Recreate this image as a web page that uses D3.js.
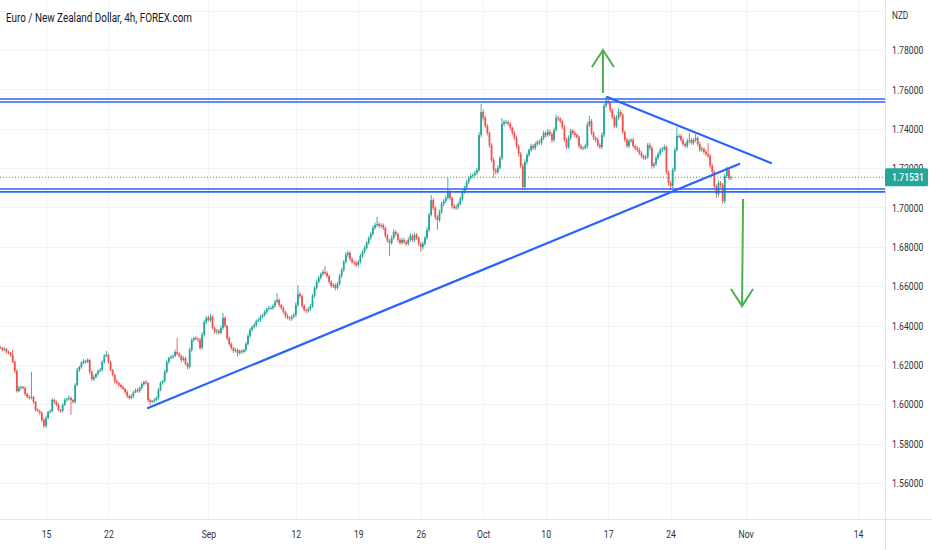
<!DOCTYPE html>
<html><head><meta charset="utf-8">
<script src="https://cdn.jsdelivr.net/npm/d3@7/dist/d3.min.js"></script>
<style>body{margin:0;background:#fff}svg{display:block}text{font-family:Roboto,"Noto Sans",sans-serif}</style>
</head><body>
<svg id="c" width="932" height="550"></svg>
<script>
const title = "Euro / New Zealand Dollar, 4h, FOREX.com";
const currency = "NZD";
const firstOpen = 1.6290;
const closes = [
1.6286,1.6276,1.6281,1.6266,1.6261,1.6251,1.6215,1.6169,1.6067,1.6083,
1.6088,1.6083,1.6052,1.6037,1.6032,1.6037,1.6012,1.5971,1.5966,1.5956,
1.5920,1.5890,1.5930,1.5961,1.5966,1.6022,1.6012,1.5997,1.5971,1.5966,
1.5997,1.6022,1.6027,1.6032,1.6022,1.6012,1.6098,1.6174,1.6189,1.6210,
1.6220,1.6215,1.6225,1.6164,1.6128,1.6138,1.6154,1.6169,1.6174,1.6215,
1.6246,1.6251,1.6215,1.6174,1.6149,1.6118,1.6108,1.6098,1.6088,1.6078,
1.6062,1.6042,1.6032,1.6042,1.6062,1.6072,1.6067,1.6083,1.6103,1.6113,
1.6108,1.6022,1.6012,1.6017,1.6022,1.6032,1.6072,1.6108,1.6118,1.6164,
1.6215,1.6235,1.6240,1.6246,1.6266,1.6256,1.6246,1.6225,1.6235,1.6205,
1.6189,1.6276,1.6327,1.6337,1.6332,1.6327,1.6286,1.6353,1.6418,1.6439,
1.6428,1.6444,1.6388,1.6368,1.6373,1.6363,1.6388,1.6439,1.6398,1.6337,
1.6306,1.6286,1.6271,1.6276,1.6261,1.6271,1.6266,1.6276,1.6306,1.6347,
1.6378,1.6393,1.6403,1.6423,1.6428,1.6444,1.6454,1.6469,1.6484,1.6489,
1.6489,1.6499,1.6520,1.6530,1.6505,1.6489,1.6469,1.6449,1.6439,1.6434,
1.6444,1.6454,1.6505,1.6560,1.6550,1.6499,1.6479,1.6474,1.6484,1.6499,
1.6550,1.6591,1.6622,1.6642,1.6662,1.6672,1.6667,1.6652,1.6622,1.6601,
1.6606,1.6591,1.6611,1.6652,1.6682,1.6723,1.6759,1.6769,1.6738,1.6723,
1.6718,1.6708,1.6723,1.6754,1.6774,1.6794,1.6820,1.6845,1.6865,1.6896,
1.6911,1.6916,1.6906,1.6911,1.6896,1.6855,1.6830,1.6820,1.6845,1.6875,
1.6865,1.6835,1.6820,1.6835,1.6825,1.6815,1.6835,1.6855,1.6835,1.6860,
1.6845,1.6815,1.6799,1.6815,1.6845,1.6886,1.6962,1.7038,1.6998,1.6952,
1.6936,1.6977,1.7018,1.7033,1.7048,1.7078,1.7048,1.7008,1.6998,1.7003,
1.7018,1.7043,1.7078,1.7099,1.7129,1.7150,1.7160,1.7165,1.7175,1.7190,
1.7368,1.7485,1.7455,1.7414,1.7378,1.7317,1.7241,1.7190,1.7180,1.7201,
1.7251,1.7424,1.7434,1.7434,1.7424,1.7404,1.7378,1.7353,1.7312,1.7272,
1.7211,1.7104,1.7231,1.7267,1.7292,1.7312,1.7302,1.7322,1.7333,1.7328,
1.7353,1.7378,1.7368,1.7384,1.7373,1.7343,1.7394,1.7455,1.7450,1.7439,
1.7409,1.7343,1.7307,1.7353,1.7389,1.7378,1.7368,1.7358,1.7312,1.7302,
1.7302,1.7312,1.7419,1.7439,1.7378,1.7353,1.7343,1.7317,1.7307,1.7368,
1.7516,1.7541,1.7531,1.7495,1.7460,1.7414,1.7455,1.7485,1.7470,1.7383,
1.7343,1.7312,1.7338,1.7343,1.7312,1.7302,1.7292,1.7277,1.7262,1.7251,
1.7256,1.7317,1.7302,1.7211,1.7221,1.7251,1.7272,1.7292,1.7297,1.7307,
1.7180,1.7124,1.7109,1.7190,1.7292,1.7363,1.7363,1.7343,1.7322,1.7312,
1.7338,1.7343,1.7328,1.7343,1.7353,1.7322,1.7292,1.7297,1.7282,1.7272,
1.7262,1.7211,1.7180,1.7109,1.7068,1.7124,1.7114,1.7033,1.7160,1.7190,
1.7150,1.71531];
// wick lengths beyond the body, in pips
const upWick = [
8,6,10,5,7,6,25,6,9,12,
7,5,8,6,10,127,6,5,8,7,
6,9,12,5,8,10,6,7,9,5,
8,10,6,12,7,5,9,11,6,8,
10,7,9,6,8,12,5,7,10,8,
9,20,6,8,5,7,10,6,8,7,
5,9,7,10,6,8,12,7,9,6,
10,6,8,5,9,7,11,8,6,12,
9,7,10,6,12,71,8,6,9,7,
10,12,8,6,9,7,11,14,9,10,
12,15,8,7,10,9,12,25,8,6,
7,9,6,10,8,7,9,6,10,12,
9,7,10,8,12,9,7,10,8,11,
9,10,12,35,8,6,9,7,10,8,
11,9,14,46,10,7,9,8,10,12,
11,9,13,10,8,12,31,9,7,8,
10,8,12,9,11,10,14,12,8,9,
7,10,9,11,8,12,10,9,11,10,
12,36,10,9,8,7,10,9,12,14,
9,8,10,12,9,8,11,14,9,12,
10,8,9,12,10,14,12,25,10,8,
9,12,10,8,14,72,10,8,9,12,
10,12,9,11,10,8,12,9,10,12,
14,41,12,10,9,8,10,12,9,14,
12,31,10,12,9,11,8,10,12,9,
10,12,14,10,9,12,10,11,9,12,
10,12,9,14,10,8,12,16,10,9,
8,10,12,14,10,9,12,10,8,11,
9,12,14,26,10,9,8,12,10,14,
12,20,10,8,9,12,14,20,10,9,
8,12,10,9,11,8,10,12,9,8,
11,10,12,9,10,12,9,11,10,12,
9,8,10,12,14,46,10,9,11,8,
12,35,10,9,20,8,10,12,9,11,
56,10,12,9,8,14,10,9,12,16,
10,9];
const dnWick = [
6,8,5,9,7,10,6,12,8,6,
9,7,10,6,8,7,9,8,6,10,
12,10,8,6,9,7,10,8,6,9,
7,6,10,8,76,9,7,6,10,8,
6,9,7,12,8,10,6,9,7,8,
10,7,9,6,8,12,7,10,8,6,
9,11,8,7,10,6,9,8,7,10,
8,12,15,7,9,8,10,6,9,7,
8,10,7,9,6,8,10,12,7,9,
12,8,10,9,7,11,9,8,10,12,
9,11,8,10,12,9,7,10,8,12,
10,9,11,8,20,9,10,7,9,8,
10,8,9,11,7,10,8,9,11,8,
9,10,8,7,11,9,10,12,8,9,
10,8,9,11,12,10,9,11,8,10,
9,8,10,7,9,8,11,10,12,9,
10,12,9,8,10,9,8,11,10,9,
11,10,8,9,10,8,9,10,11,8,
9,10,12,9,11,10,9,66,10,9,
11,12,10,9,12,11,10,9,12,10,
9,11,25,12,10,9,10,8,12,14,
50,10,9,12,10,8,12,14,10,11,
12,9,10,8,11,10,9,12,10,9,
10,12,14,10,12,14,12,40,12,10,
9,10,12,9,10,12,11,10,12,14,
12,15,10,12,11,9,12,10,11,9,
10,11,12,9,10,14,10,11,12,10,
11,12,10,9,12,10,11,9,12,10,
10,9,12,10,11,10,12,9,10,11,
12,10,9,14,12,11,10,9,12,10,
11,9,12,10,9,12,10,11,12,10,
10,9,12,14,10,11,9,12,10,9,
12,14,20,11,10,9,12,10,11,9,
10,12,9,11,10,12,9,10,11,12,
10,12,14,10,20,12,14,15,12,10,
11,10];
const priceTicks = [1.56,1.58,1.60,1.62,1.64,1.66,1.68,1.70,1.72,1.74,1.76,1.78];
const gridPrices = [1.56,1.58,1.60,1.62,1.64,1.66,1.68,1.70,1.72,1.74,1.76,1.78,1.80];
const dateLabels = ["15","22","Sep","12","19","26","Oct","10","17","24","Nov","14"];
const dateIdx = [22,52,100,142,172,202,232,262,292,322,358,412];
const resistance = [1.7551, 1.7536];
const support = [1.7094, 1.7079];
const trendUp = [[71,1.5981],[354.9,1.7221]];
const trendDown = [[291.5,1.7561],[370.2,1.7226]];
const arrowUp = [[289.5,1.7582],[289.5,1.7800]];
const arrowDown = [[356.8,1.7043],[356.3,1.6499]];
const lastPrice = 1.71531;

const W = 932, H = 550, PR = 885, PB = 519, SX = 0.75;
const UP = "#26a69a", DN = "#ef5350", BLUE = "#2962ff", GREEN = "#4caf50";
const svg = d3.select("#c");
const x = d3.scaleLinear().domain([22, 412]).range([46, 858]);
const y = d3.scaleLinear().domain([1.56, 1.78]).range([483, 50]);

svg.append("defs").append("clipPath").attr("id","plot").append("rect")
  .attr("x",0).attr("y",0).attr("width",PR).attr("height",PB);

const plot = svg.append("g").attr("clip-path","url(#plot)");
// grid
plot.selectAll(".hg").data(gridPrices).enter().append("line")
  .attr("x1",0).attr("x2",PR).attr("y1",d=>Math.round(y(d))+0.5).attr("y2",d=>Math.round(y(d))+0.5)
  .attr("stroke","#f0f3fa").attr("stroke-width",1);
plot.selectAll(".vg").data(dateIdx).enter().append("line")
  .attr("y1",0).attr("y2",PB).attr("x1",d=>Math.round(x(d))+0.5).attr("x2",d=>Math.round(x(d))+0.5)
  .attr("stroke","#f0f3fa").attr("stroke-width",1);

// candles
const candles = closes.map((c,i)=>{
  const o = i ? closes[i-1] : firstOpen;
  return {i, o, c, hi: Math.max(o,c)+upWick[i]*1e-4, lo: Math.min(o,c)-dnWick[i]*1e-4, up: c>=o};
});
const cg = plot.append("g");
cg.selectAll(".w").data(candles).enter().append("line")
  .attr("x1",d=>x(d.i)).attr("x2",d=>x(d.i)).attr("y1",d=>y(d.hi)).attr("y2",d=>y(d.lo))
  .attr("stroke",d=>d.up?UP:DN).attr("stroke-width",0.9);
cg.selectAll(".b").data(candles).enter().append("rect")
  .attr("x",d=>x(d.i)-0.9).attr("width",1.8)
  .attr("y",d=>y(Math.max(d.o,d.c))).attr("height",d=>Math.max(0.9,Math.abs(y(d.o)-y(d.c))))
  .attr("fill",d=>d.up?UP:DN);

// horizontal levels
plot.selectAll(".lvl").data(resistance.concat(support)).enter().append("line")
  .attr("x1",0).attr("x2",PR).attr("y1",d=>y(d)).attr("y2",d=>y(d))
  .attr("stroke",BLUE).attr("stroke-width",1.6);
// trend lines
const line = d3.line().x(d=>x(d[0])).y(d=>y(d[1]));
[trendUp, trendDown].forEach(t=>plot.append("path").attr("d",line(t))
  .attr("fill","none").attr("stroke",BLUE).attr("stroke-width",2.2).attr("stroke-linecap","round"));
// arrows
function arrow(a, dir){
  const tx = x(a[1][0]), ty = y(a[1][1]);
  plot.append("path").attr("d",line(a)).attr("fill","none").attr("stroke",GREEN).attr("stroke-width",2);
  plot.append("path").attr("d",`M${tx-11},${ty+dir*17}L${tx},${ty}L${tx+11},${ty+dir*17}`)
    .attr("fill","none").attr("stroke",GREEN).attr("stroke-width",2).attr("stroke-linejoin","miter");
}
arrow(arrowUp, 1);
arrow(arrowDown, -1);
// last price dotted line
plot.append("line").attr("x1",0).attr("x2",PR).attr("y1",y(lastPrice)).attr("y2",y(lastPrice))
  .attr("stroke",UP).attr("stroke-width",1).attr("stroke-dasharray","1,2");

// frame lines
svg.append("line").attr("x1",PR+0.5).attr("x2",PR+0.5).attr("y1",0).attr("y2",H).attr("stroke","#e0e3eb");
svg.append("line").attr("x1",0).attr("x2",W).attr("y1",PB+0.5).attr("y2",PB+0.5).attr("stroke","#e0e3eb");

// y axis
const ya = svg.append("g").attr("transform",`translate(${PR},0)`)
  .call(d3.axisRight(y).tickValues(priceTicks).tickFormat(d3.format(".5f")).tickSize(0).tickPadding(0));
ya.select(".domain").remove();
ya.selectAll("text").attr("fill","#333").style("font-size","11.5px")
  .attr("x",0).attr("transform",`translate(7,0) scale(${SX},1)`);
// x axis
const xa = svg.append("g").attr("transform",`translate(0,${PB})`)
  .call(d3.axisBottom(x).tickValues(dateIdx).tickFormat((d,i)=>dateLabels[i]).tickSize(0).tickPadding(11));
xa.select(".domain").remove();
xa.selectAll("text").attr("fill","#333").style("font-size","11.5px").attr("transform",`scale(${SX},1)`);

// currency
svg.append("text").attr("transform",`translate(892,19) scale(${SX},1)`).text(currency)
  .attr("fill","#333").style("font-size","11px");
// title
svg.append("text").attr("transform",`translate(6,22) scale(${SX},1)`).text(title).attr("fill","#131722")
  .style("font-size","13.2px");

// last price label
const ly = y(lastPrice);
svg.append("rect").attr("x",PR).attr("y",ly-9).attr("width",43).attr("height",18).attr("rx",1.5).attr("fill",UP);
svg.append("text").attr("transform",`translate(892,${ly}) scale(${SX},1)`).attr("dy","0.35em")
  .text(d3.format(".5f")(lastPrice)).attr("fill","#fff").style("font-size","11.5px").style("font-weight","500");
</script>
</body></html>
